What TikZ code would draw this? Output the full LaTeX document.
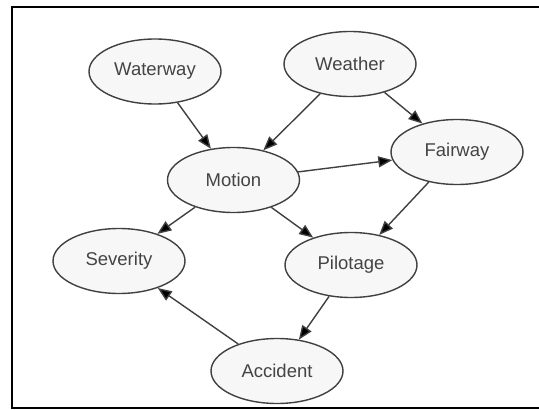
\documentclass[tikz,border=0pt]{standalone}
\usepackage{fontspec}
\setmainfont{Liberation Sans}
\usetikzlibrary{shapes.geometric,arrows.meta}
\definecolor{edgegray}{HTML}{404040}
\definecolor{textgray}{HTML}{444444}
\definecolor{nodefill}{HTML}{F7F7F7}
\begin{document}
\begin{tikzpicture}[x=1pt,y=-1pt,
  var/.style={ellipse,draw=edgegray,fill=nodefill,line width=1.4pt,
    minimum width=132pt,minimum height=65pt,inner sep=0pt,
    text=textgray,font=\fontsize{18.5}{20}\selectfont},
  link/.style={draw=edgegray,line width=1.4pt,
    -{Triangle[length=14pt,width=11pt,fill=black]}}]
\useasboundingbox (0,0) rectangle (539,410);
\fill[white] (0,0) rectangle (539,410);
% frame
\draw[line width=2pt,black] (539,7) -- (12,7) -- (12,408) -- (539,408);
% variables
\node[var] (waterway) at (155,71.5) {Waterway};
\node[var] (weather)  at (350,64)   {Weather};
\node[var] (fairway)  at (457,152)  {Fairway};
\node[var] (motion)   at (233.5,180){Motion};
\node[var] (severity) at (119,261)  {Severity};
\node[var] (pilotage) at (351,265)  {Pilotage};
\node[var] (accident) at (277,371)  {Accident};
% dependencies
\draw[link] (waterway) -- (motion);
\draw[link] (weather)  -- (motion);
\draw[link] (weather)  -- (fairway);
\draw[link] (motion)   -- (fairway);
\draw[link] (motion)   -- (severity);
\draw[link] (motion)   -- (pilotage);
\draw[link] (fairway)  -- (pilotage);
\draw[link] (pilotage) -- (accident);
\draw[link] (accident) -- (severity);
\end{tikzpicture}
\end{document}
